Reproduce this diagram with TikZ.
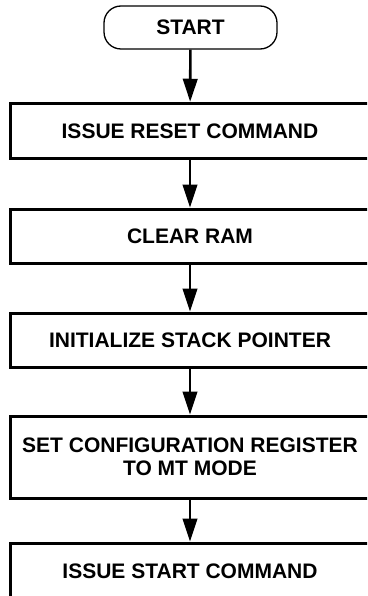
\documentclass[tikz,border=0pt]{standalone}
\usepackage{fontspec}
\setmainfont{Liberation Sans}
\usetikzlibrary{arrows.meta}
\begin{document}
\begin{tikzpicture}[x=1pt,y=1pt,
    stepbox/.style={draw,line width=3pt,minimum width=359pt,inner sep=0pt,
      align=center,font=\fontsize{21}{23.5}\selectfont\bfseries},
    termbox/.style={draw,line width=1.3pt,rounded corners=17pt,minimum width=173pt,
      minimum height=43pt,inner sep=0pt,font=\fontsize{21}{23.5}\selectfont\bfseries},
    flow/.style={line width=2.6pt,-{Triangle[length=23pt,width=14.5pt]}}]
      \useasboundingbox (0,0) rectangle (367,-596);
      \clip (0,0) rectangle (367,-596);
      \draw
        (190.5,-27.5) node[termbox] (start){START}
        (190,-131) node[stepbox,minimum height=55.5pt] (reset){ISSUE RESET COMMAND}
        (190,-236) node[stepbox,minimum height=54pt] (clear){CLEAR RAM}
        (190,-340) node[stepbox,minimum height=54pt] (stack){INITIALIZE STACK POINTER}
        (190,-457) node[stepbox,minimum height=82pt] (config){SET CONFIGURATION REGISTER\\TO MT MODE}
        (190,-571) node[stepbox,minimum height=56pt] (go){ISSUE START COMMAND};
      \begin{scope}[flow]
        \draw (start) to (reset);
        \draw (reset) to (clear);
        \draw (clear) to (stack);
        \draw (stack) to (config);
        \draw (config) to (go);
      \end{scope}
    \end{tikzpicture}
\end{document}
